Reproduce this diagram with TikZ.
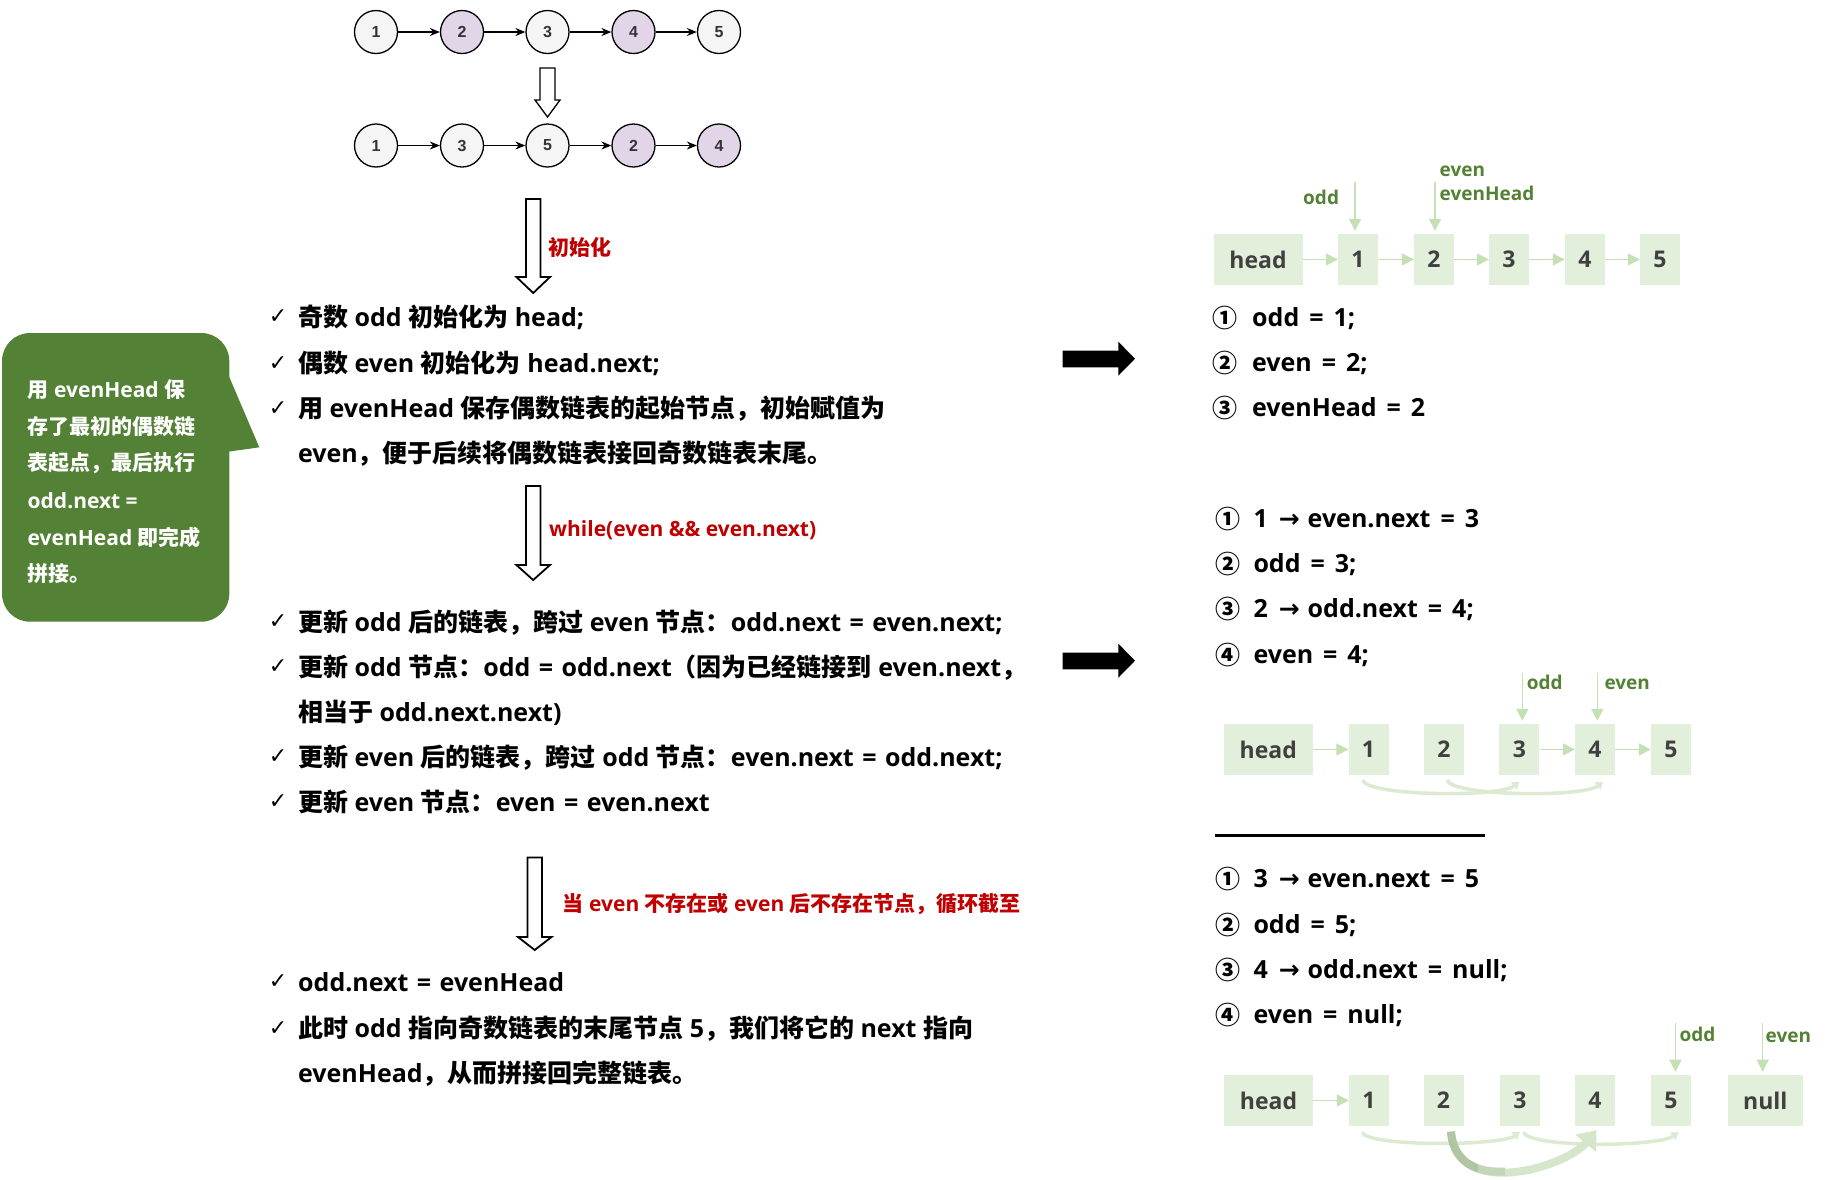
\documentclass[tikz,border=0pt]{standalone}
\usepackage{fontspec}
\IfFontExistsTF{Open Sans Bold}{\setmainfont{Open Sans}[BoldFont={Open Sans Bold}]}{\IfFontExistsTF{Noto Sans Bold}{\setmainfont{Noto Sans}[BoldFont={Noto Sans Bold}]}{\setmainfont{Liberation Sans}}}
\newfontfamily\cjkf{Noto Sans CJK SC}
\newfontfamily\symf{DejaVu Sans}
\newfontfamily\helvf{Liberation Sans}
\usetikzlibrary{arrows.meta,calc}
\newcommand\zh[1]{{\cjkf #1}}
\newcommand\fsz[1]{\fontsize{#1}{#1}\selectfont}
\newcommand\eqs{\hspace{10pt}=\hspace{10pt}}
\newcommand\eqm{\hspace{8.5pt}=\hspace{8.5pt}}
\newcommand\rarr{\hspace{11pt}{\symf →}\hspace{8pt}}
\definecolor{bub}{HTML}{538135}
\definecolor{lbl}{HTML}{548235}
\definecolor{boxf}{HTML}{E2EFDA}
\definecolor{arw}{HTML}{C5E0B4}
\definecolor{arcc}{HTML}{DCEAD2}
\definecolor{redt}{HTML}{C00000}
\definecolor{purp}{HTML}{E1D5E7}
\definecolor{wg}{HTML}{F5F5F5}
\definecolor{boxt}{HTML}{404040}
\definecolor{numc}{HTML}{333333}
\definecolor{bigd}{HTML}{B1C4A3}
\definecolor{bigm}{HTML}{C4D6B8}
\definecolor{bigl}{HTML}{D5E6CA}
\tikzset{
 ln/.style={anchor=base west, inner sep=0pt, font=\fsz{25}\bfseries},
 chk/.style={inner sep=0pt, font=\symf\fsz{22}},
 redl/.style={anchor=base west, inner sep=0pt, font=\fsz{21}\bfseries, text=redt},
 bubl/.style={anchor=base west, inner sep=0pt, font=\fsz{21}\bfseries, text=white},
 st/.style={anchor=base west, inner sep=0pt, font=\fsz{25}\bfseries},
 cnum/.style={inner sep=0pt, font=\cjkf\fsz{25}\bfseries},
 lnode/.style={fill=boxf, inner sep=0pt, minimum height=51pt, minimum width=40pt, font=\fsz{23}\bfseries, text=boxt},
 hnode/.style={lnode, minimum width=89pt},
 gl/.style={anchor=base west, inner sep=0pt, font=\fsz{19}\bfseries, text=lbl},
 garr/.style={draw=arw, line width=1.5pt, -{Triangle[length=12pt,width=12pt]}},
 garc/.style={draw=arcc, line width=3.5pt, -{Triangle[length=7pt,width=9pt]}},
 circ/.style={circle, draw=black, line width=1.3pt, minimum size=43pt, inner sep=0pt, font=\helvf\bfseries\fsz{16}, text=numc},
 carr/.style={-{Stealth[length=10pt,width=8pt]}, line width=1.1pt},
 hol/.style={draw=black, fill=white, line width=1.8pt, line join=miter},
}
\begin{document}
\begin{tikzpicture}[x=1pt,y=-1pt]
\useasboundingbox (0,0) rectangle (1828,1179);
\fill[white] (0,0) rectangle (1828,1179);

% ---------- top linked lists ----------
\node[circ, fill=wg] (t1) at (376,32) {1};
\node[circ, fill=purp] (t2) at (462,32) {2};
\node[circ, fill=wg] (t3) at (547.5,32) {3};
\node[circ, fill=purp] (t4) at (633.5,32) {4};
\node[circ, fill=wg] (t5) at (719,32) {5};
\draw[carr] (t1) -- (t2);
\draw[carr] (t2) -- (t3);
\draw[carr] (t3) -- (t4);
\draw[carr] (t4) -- (t5);
\node[circ, fill=wg] (u1) at (376,145.5) {1};
\node[circ, fill=wg] (u2) at (462,145.5) {3};
\node[circ, fill=wg] (u3) at (547.5,145.5) {5};
\node[circ, fill=purp] (u4) at (633.5,145.5) {2};
\node[circ, fill=purp] (u5) at (719,145.5) {4};
\draw[carr] (u1) -- (u2);
\draw[carr] (u2) -- (u3);
\draw[carr] (u3) -- (u4);
\draw[carr] (u4) -- (u5);
\draw[hol, line width=1.3pt] (540,68) -- (555,68) -- (555,100) -- (560,100) -- (547.5,117) -- (535,100) -- (540,100) -- cycle;

% ---------- hollow arrows ----------
\draw[hol] (526,199) -- (540.5,199) -- (540.5,277) -- (550,277) -- (533.2,293) -- (516.4,277) -- (526,277) -- cycle;
\node[redl] (r1) at (548,255.5) {\zh{初始化}};
\draw[hol] (526,486) -- (540.5,486) -- (540.5,565) -- (550,565) -- (533.2,580) -- (516.4,565) -- (526,565) -- cycle;
\node[redl] (r2) at (549,536.7) {while(even \&\& even.next)};
\draw[hol] (527.5,857.5) -- (542,857.5) -- (542,937) -- (551.5,937) -- (534.7,950) -- (518,937) -- (527.5,937) -- cycle;
\node[redl] (r3) at (562.5,911.5) {\zh{当} even \zh{不存在或} even \zh{后不存在节点，循环截至}};

% ---------- section 1 ----------
\node[chk] (k11) at (278,316.7) {✓};
\node[ln] (l11) at (298,326.2) {\zh{奇数} odd \zh{初始化为} head;};
\node[chk] (k12) at (278,363.3) {✓};
\node[ln] (l12) at (298,372.8) {\zh{偶数} even \zh{初始化为} head.next;};
\node[chk] (k13) at (278,408.3) {✓};
\node[ln] (l13) at (298,417.8) {\zh{用} evenHead \zh{保存偶数链表的起始节点，初始赋值为}};
\node[ln] (l14) at (298,462.8) {even\zh{，便于后续将偶数链表接回奇数链表末尾。}};

% ---------- section 2 ----------
\node[chk] (k21) at (278,621.7) {✓};
\node[ln] (l21) at (298,631.2) {\zh{更新} odd \zh{后的链表，跨过} even \zh{节点：}odd.next\eqm even.next;};
\node[chk] (k22) at (278,666.7) {✓};
\node[ln] (l22) at (298,676.2) {\zh{更新} odd \zh{节点：}odd\eqm odd.next\zh{（因为已经链接到} even.next\zh{，}};
\node[ln] (l23) at (298,721.2) {\zh{相当于} odd.next.next)};
\node[chk] (k24) at (278,756.7) {✓};
\node[ln] (l24) at (298,766.2) {\zh{更新} even \zh{后的链表，跨过} odd \zh{节点：}even.next\eqm odd.next;};
\node[chk] (k25) at (278,801.7) {✓};
\node[ln] (l25) at (298,811.2) {\zh{更新} even \zh{节点：}even\eqm even.next};

% ---------- section 3 ----------
\node[chk] (k31) at (278,981.7) {✓};
\node[ln] (l31) at (298,991.2) {odd.next\eqm evenHead};
\node[chk] (k32) at (278,1028.3) {✓};
\node[ln] (l32) at (298,1037.8) {\zh{此时} odd \zh{指向奇数链表的末尾节点} 5\zh{，我们将它的} next \zh{指向}};
\node[ln] (l33) at (298,1082.8) {evenHead\zh{，从而拼接回完整链表。}};

% ---------- bubble ----------
\fill[bub, rounded corners=28pt] (2,333) rectangle (229.3,621.7);
\fill[bub] (228,374) -- (259.3,447.3) -- (228,451.7) -- cycle;
\node[bubl] (q1) at (27.5,397.5) {\zh{用} evenHead \zh{保}};
\node[bubl] (q2) at (27.5,434) {\zh{存了最初的偶数链}};
\node[bubl] (q3) at (27.5,470.5) {\zh{表起点，最后执行}};
\node[bubl] (q4) at (27.5,508.3) {odd.next =};
\node[bubl] (q5) at (27.5,545) {evenHead \zh{即完成}};
\node[bubl] (q6) at (27.5,581) {\zh{拼接。}};

% ---------- black arrows ----------
\fill[black] (1062.7,350.7) -- (1118.3,350.7) -- (1118.3,341.7) -- (1135,358.7) -- (1118.3,375.7) -- (1118.3,367.3) -- (1062.7,367.3) -- cycle;
\fill[black] (1062.7,652.7) -- (1118.3,652.7) -- (1118.3,643.7) -- (1135,660.7) -- (1118.3,677.7) -- (1118.3,669.3) -- (1062.7,669.3) -- cycle;

% ---------- panel 1 ----------
\node[hnode] (h1) at (1258,259.5) {head};
\node[lnode] (a1) at (1358,259.5) {1};
\node[lnode] (a2) at (1434,259.5) {2};
\node[lnode] (a3) at (1509,259.5) {3};
\node[lnode] (a4) at (1585,259.5) {4};
\node[lnode] (a5) at (1660,259.5) {5};
\draw[garr] (h1) -- (a1);
\draw[garr] (a1) -- (a2);
\draw[garr] (a2) -- (a3);
\draw[garr] (a3) -- (a4);
\draw[garr] (a4) -- (a5);
\coordinate (po1) at (1355,182);
\coordinate (pe1) at (1435,182);
\draw[garr, shorten >=3pt] (po1) -- (po1 |- a1.north);
\draw[garr, shorten >=3pt] (pe1) -- (pe1 |- a2.north);
\node[gl] (go1) at (1303,204) {odd};
\node[gl] (ge1) at (1439.5,176.7) {even};
\node[gl] (gh1) at (1439.5,200) {evenHead};
\node[cnum] (c11) at (1225.3,318.3) {①};
\node[st] (s11) at (1252,326.8) {odd\eqs 1;};
\node[cnum] (c12) at (1225.3,363.3) {②};
\node[st] (s12) at (1252,371.8) {even\eqs 2;};
\node[cnum] (c13) at (1225.3,408.3) {③};
\node[st] (s13) at (1252,416.8) {evenHead\eqs 2};

% ---------- panel 2 ----------
\node[cnum] (c21) at (1227.7,519.3) {①};
\node[st] (s21) at (1253.3,527.8) {1\rarr even.next\eqs 3};
\node[cnum] (c22) at (1227.7,564) {②};
\node[st] (s22) at (1253.3,572.5) {odd\eqs 3;};
\node[cnum] (c23) at (1227.7,609.3) {③};
\node[st] (s23) at (1253.3,617.8) {2\rarr odd.next\eqs 4;};
\node[cnum] (c24) at (1227.7,655) {④};
\node[st] (s24) at (1253.3,663.5) {even\eqs 4;};
\node[hnode] (h2) at (1268.3,749.5) {head};
\node[lnode] (b1) at (1368.5,749.5) {1};
\node[lnode] (b2) at (1444,749.5) {2};
\node[lnode] (b3) at (1519.3,749.5) {3};
\node[lnode] (b4) at (1595,749.5) {4};
\node[lnode] (b5) at (1671,749.5) {5};
\draw[garr] (h2) -- (b1);
\draw[garr] (b3) -- (b4);
\draw[garr] (b4) -- (b5);
\coordinate (po2) at (1522.3,672.7);
\coordinate (pe2) at (1597.3,672.7);
\draw[garr, shorten >=3pt] (po2) -- (po2 |- b3.north);
\draw[garr, shorten >=3pt] (pe2) -- (pe2 |- b4.north);
\node[gl] (go2) at (1526.7,689.3) {odd};
\node[gl] (ge2) at (1604.3,689.3) {even};
\draw[garc] ($(b1.south)+(-6,5)$) .. controls +(5,16) and +(-20,16) .. ($(b3.south)+(0,6.5)$);
\draw[garc] ($(b2.south)+(3,5)$) .. controls +(5,16) and +(-20,16) .. ($(b4.south)+(8,6.5)$);

% ---------- separator ----------
\coordinate (sepa) at (1215,835.5);
\coordinate (sepb) at (1485,835.5);
\draw[line width=2.5pt] (sepa) -- (sepb);

% ---------- panel 3 ----------
\node[cnum] (c31) at (1227.5,879.3) {①};
\node[st] (s31) at (1253.3,887.8) {3\rarr even.next\eqs 5};
\node[cnum] (c32) at (1227.5,925) {②};
\node[st] (s32) at (1253.3,933.5) {odd\eqs 5;};
\node[cnum] (c33) at (1227.5,970) {③};
\node[st] (s33) at (1253.3,978.5) {4\rarr odd.next\eqs null;};
\node[cnum] (c34) at (1227.5,1015) {④};
\node[st] (s34) at (1253.3,1023.5) {even\eqs null;};
\node[hnode] (h3) at (1268.5,1100.4) {head};
\node[lnode] (d1) at (1369,1100.4) {1};
\node[lnode] (d2) at (1443.5,1100.4) {2};
\node[lnode] (d3) at (1520,1100.4) {3};
\node[lnode] (d4) at (1595,1100.4) {4};
\node[lnode] (d5) at (1671,1100.4) {5};
\node[lnode, minimum width=75pt] (dn) at (1765.3,1100.4) {null};
\draw[garr] (h3) -- (d1);
\coordinate (po3) at (1675.4,1023);
\coordinate (pe3) at (1762.7,1023);
\draw[garr, shorten >=3pt] (po3) -- (po3 |- d5.north);
\draw[garr, shorten >=3pt] (pe3) -- (pe3 |- dn.north);
\node[gl] (go3) at (1679.4,1041.7) {odd};
\node[gl] (ge3) at (1765.5,1042.7) {even};
\draw[garc] ($(d1.south)+(-7,6)$) .. controls +(5,15) and +(-20,14) .. ($(d3.south)+(0,6)$);
\draw[garc] ($(d3.south)+(3.5,6)$) .. controls +(5,16) and +(-20,15) .. ($(d5.south)+(7.5,6)$);
% big curved arrow 2 -> 4
\draw[draw=bigl, line width=8pt, -{Triangle[length=17pt,width=26pt]}] ($(d2.south)+(7.5,5.5)$) .. controls (1456,1200) and (1565,1168) .. ($(d4.south)+(1.5,4)$);
\begin{scope}
\clip (1440,1125) rectangle (1478,1179);
\draw[draw=bigd, line width=8pt] ($(d2.south)+(7.5,5.5)$) .. controls (1456,1200) and (1565,1168) .. ($(d4.south)+(1.5,4)$);
\end{scope}
\begin{scope}
\clip (1478,1125) rectangle (1505,1179);
\draw[draw=bigm, line width=8pt] ($(d2.south)+(7.5,5.5)$) .. controls (1456,1200) and (1565,1168) .. ($(d4.south)+(1.5,4)$);
\end{scope}
\end{tikzpicture}
\end{document}
